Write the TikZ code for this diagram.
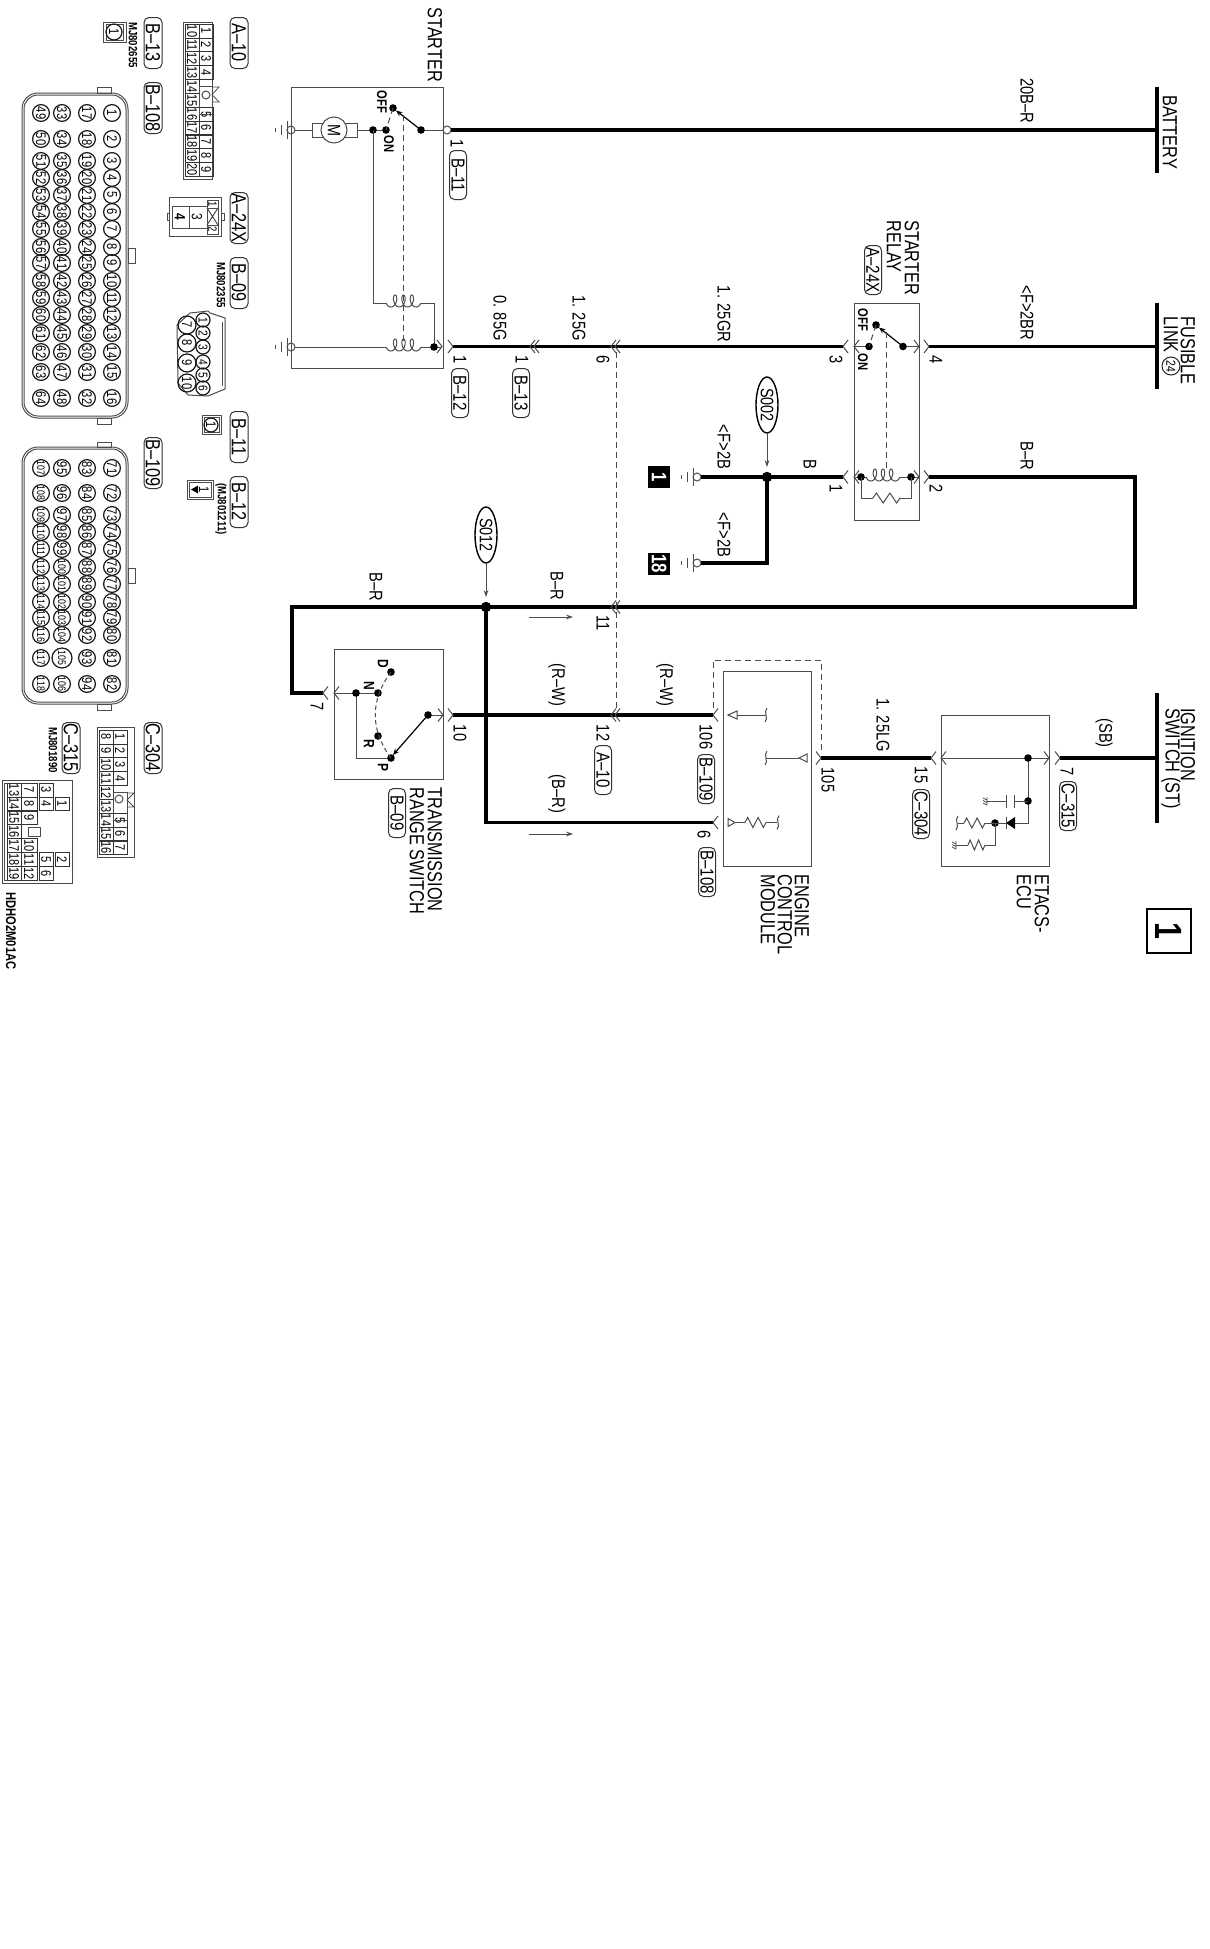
\documentclass[tikz,border=0pt]{standalone}
\usepackage{fontspec}
\setmainfont{Liberation Sans}[FakeStretch=0.8]
\usetikzlibrary{arrows.meta,shapes.geometric}
\definecolor{wiregray}{gray}{0.3}
\tikzset{
  hair/.style={draw=wiregray,line width=0.5pt},
  thick wire/.style={draw=black,line width=1.6pt,line join=miter},
  lab/.style={rotate=-90,inner sep=0pt,font=\fontsize{9.2}{9.2}\selectfont},
  ttl/.style={rotate=-90,inner sep=0pt,anchor=west,font=\fontsize{10.2}{10.2}\selectfont},
  badge/.style={draw=black!80,line width=0.5pt,rotate=-90,rounded corners=2.5pt,inner sep=0pt,minimum width=24.5pt,minimum height=8.5pt,font=\fontsize{9.4}{9.4}\selectfont},
  bigbadge/.style={badge,minimum width=25.5pt,minimum height=9pt,font=\fontsize{10.2}{10.2}\selectfont},
  part/.style={rotate=-90,inner sep=0pt,font=\bfseries\fontsize{6}{6}\selectfont},
  cellnum/.style={draw=black!80,line width=0.4pt,rotate=-90,inner sep=0pt,minimum width=6.9pt,minimum height=7pt,font=\fontsize{6.9}{6.9}\selectfont},
  pin/.style={circle,draw=black!90,line width=0.6pt,rotate=-90,inner sep=0pt,minimum size=8.4pt,font=\fontsize{7}{7}\selectfont},
  splice/.style={ellipse,draw=black,line width=0.7pt,rotate=-90,inner sep=0pt,minimum width=28pt,minimum height=11pt,font=\fontsize{9}{9}\selectfont},
  gndbox/.style={rotate=-90,fill=black,text=white,inner sep=0pt,minimum size=11pt,font=\bfseries\fontsize{10.5}{10.5}\selectfont},
  dashline/.style={draw=wiregray,line width=0.5pt,dash pattern=on 3pt off 2pt},
  arrowline/.style={draw=wiregray,line width=0.5pt,-{Stealth[length=3.5pt,width=2.4pt]}},
  armline/.style={draw=black,line width=0.6pt,-{Stealth[length=3.2pt,width=2.6pt]}},
}
\newcommand{\lab}[4]{\node[lab] (#1) at (#2,#3) {#4};}
\newcommand{\ttl}[4]{\node[ttl] (#1) at (#2,#3) {#4};}
\newcommand{\bdg}[4]{\node[badge] (#1) at (#2,#3) {#4};}
\newcommand{\bbdg}[4]{\node[bigbadge] (#1) at (#2,#3) {#4};}
\newcommand{\jdot}[2]{\fill (#1,#2) circle (1.9pt);}
\newcommand{\chevR}[2]{\draw[hair] ({#1-5},{#2-6.5}) -- (#1,#2) -- ({#1-5},{#2+6.5});}
\newcommand{\chevL}[2]{\draw[hair] ({#1+5},{#2-6.5}) -- (#1,#2) -- ({#1+5},{#2+6.5});}
\newcommand{\dchev}[2]{\chevL{#1}{#2}\chevL{#1+4}{#2}}
\newcommand{\coil}[3]{\draw[hair] plot[domain=-70:1150,samples=90,variable=\t] ({#1+(\t+70)/1220*(#3-6.6)+3.5*(sin(\t)+0.94)},{#2+4-6*(1-cos(\t))});}
\newcommand{\zig}[3]{\pgfmathsetmacro\zs{(#2-#1)/8}\draw[hair] (#1,#3) -- ({#1+\zs},{#3-5}) -- ({#1+3*\zs},{#3+5}) -- ({#1+5*\zs},{#3-5}) -- ({#1+7*\zs},{#3+5}) -- (#2,#3);}
\newcommand{\curl}[2]{\draw[hair] ({#1+1},{#2-7}) .. controls ({#1-3},{#2-3}) and ({#1+3},{#2+3}) .. ({#1-1},{#2+7});}
\newcommand{\gnd}[2]{\draw[hair] (#1,#2) circle (2pt);\draw[hair] ({#1-4},{#2-9}) -- ({#1-4},{#2+9});\draw[hair] ({#1-10},{#2-5}) -- ({#1-10},{#2+5});\draw[hair] ({#1-16},{#2-2}) -- ({#1-16},{#2+2});}
\newcommand{\hatchg}[2]{\draw[hair,line width=0.4pt] (#1,{#2-4}) -- (#1,{#2+4}) ({#1-4},{#2-3}) -- (#1,{#2-1}) ({#1-4},{#2-0.5}) -- (#1,{#2+1.5}) ({#1-4},{#2+2}) -- (#1,{#2+4});}
\newcommand{\keytab}[3]{\draw[hair,line width=0.4pt] (#1,#2) -- ({#1+7},#2) -- (#1,{(#2+#3)/2}) -- ({#1+7},#3) -- (#1,#3);}
\begin{document}
\begin{tikzpicture}[x=0.5pt,y=-0.5pt]
\useasboundingbox[fill=white] (0,0) rectangle (1210,1949);

% ---------- named wire end points
\coordinate (w1a) at (451,130);   \coordinate (w1b) at (1157,130);
\coordinate (w2a) at (453,346.5); \coordinate (w2b) at (843,346.5);
\coordinate (w3a) at (929,346.5); \coordinate (w3b) at (1157,346.5);
\coordinate (g1)  at (701,477);   \coordinate (s2j) at (767,477);  \coordinate (w4b) at (843,477);
\coordinate (g18) at (701,563);   \coordinate (s2c) at (767,563);
\coordinate (w5a) at (929,477);   \coordinate (w5b) at (1135,477); \coordinate (w5c) at (1135,607);
\coordinate (s12j) at (486,607);  \coordinate (w5d) at (292,607);  \coordinate (w5e) at (292,693); \coordinate (w5f) at (323,693);
\coordinate (w6a) at (453,715);   \coordinate (w6b) at (713,715);
\coordinate (w7a) at (486,822.5); \coordinate (w7b) at (713,822.5);
\coordinate (w8a) at (821,758);   \coordinate (w8b) at (931,758);
\coordinate (w9a) at (1060,758);  \coordinate (w9b) at (1157,758);

% ---------- thick wires
\draw[thick wire] (w1a) -- (w1b);
\draw[thick wire] (w2a) -- (w2b);
\draw[thick wire] (w3a) -- (w3b);
\draw[thick wire] (g1) -- (s2j) -- (w4b);
\draw[thick wire] (s2j) -- (s2c) -- (g18);
\draw[thick wire] (w5a) -- (w5b) -- (w5c) -- (s12j) -- (w5d) -- (w5e) -- (w5f);
\draw[thick wire] (w6a) -- (w6b);
\draw[thick wire] (s12j) -- (w7a) -- (w7b);
\draw[thick wire] (w8a) -- (w8b);
\draw[thick wire] (w9a) -- (w9b);
\draw[thick wire] (1157,87) -- (1157,173);
\draw[thick wire] (1157,303) -- (1157,389);
\draw[thick wire] (1157,693) -- (1157,823);

% ---------- titles
\ttl{tbat}{1170}{95}{BATTERY}
\node[ttl] (tfus) at (1188,316) {FUSIBLE};
\node[ttl] (tlink) at (1171,316) {LINK};
\node[circle,draw=black!85,line width=0.5pt,rotate=-90,inner sep=0pt,minimum size=9pt,font=\fontsize{6.5}{6.5}\selectfont] (c24) at (1171,366) {24};
\ttl{tign}{1188}{708}{IGNITION}
\ttl{tsw}{1171}{708}{SWITCH (ST)}
\ttl{tsta}{435}{7}{STARTER}
\ttl{trel1}{912}{220}{STARTER}
\ttl{trel2}{894}{220}{RELAY}
\ttl{ttr1}{435}{787}{TRANSMISSION}
\ttl{ttr2}{417}{787}{RANGE SWITCH}
\ttl{tec1}{802}{874}{ENGINE}
\ttl{tec2}{785}{874}{CONTROL}
\ttl{tec3}{768}{874}{MODULE}
\ttl{tet1}{1042}{874}{ETACS-}
\ttl{tet2}{1024}{874}{ECU}

% ---------- wire labels
\lab{l20}{1027}{101}{20B–R}
\lab{lf2br}{1027}{313}{<F>2BR}
\lab{lbr1}{1027}{456}{B–R}
\lab{l125gr}{724}{314}{1. 25GR}
\lab{l125g}{579}{318}{1. 25G}
\lab{l085}{500}{318}{0. 85G}
\lab{lf2b1}{724}{447}{<F>2B}
\lab{lf2b2}{724}{535}{<F>2B}
\lab{lb}{810}{464}{B}
\lab{lbr2}{557}{586}{B–R}
\lab{lbr3}{376}{587}{B–R}
\lab{lrw1}{557}{685}{(R–W)}
\lab{lrw2}{665}{685}{(R–W)}
\lab{lbr4}{557}{794}{(B–R)}
\lab{l125lg}{883}{725}{1. 25LG}
\lab{lsb}{1104}{733}{(SB)}

% ---------- pin numbers
\lab{n1a}{457}{144}{1}
\lab{n1b}{460}{360}{1}
\lab{n1c}{522}{360}{1}
\lab{n6}{603}{360}{6}
\lab{n3}{836}{360}{3}
\lab{n4}{936}{360}{4}
\lab{n1d}{836}{489}{1}
\lab{n2}{936}{489}{2}
\lab{n11}{603}{623}{11}
\lab{n12}{603}{733}{12}
\lab{n7a}{317}{707}{7}
\lab{n10}{460}{733}{10}
\lab{n106}{706}{737}{106}
\lab{n6b}{704}{835}{6}
\lab{n105}{828}{780}{105}
\lab{n15}{921}{775}{15}
\lab{n7b}{1067}{772}{7}

% ---------- connector badges in the circuit
\bdg{b11}{458}{175}{B–11}
\bdg{b12}{460}{393}{B–12}
\bdg{b13}{521}{393}{B–13}
\bdg{a10b}{603}{770}{A–10}
\bdg{a24b}{873}{270}{A–24X}
\bdg{b09b}{397}{813}{B–09}
\bdg{b109b}{706}{779}{B–109}
\bdg{b108b}{707}{872}{B–108}
\bdg{c304b}{921}{814}{C–304}
\bdg{c315b}{1068}{806}{C–315}

% ---------- STARTER
\draw[hair] (291,87) rectangle (443,368);
\gnd{291}{130}
\gnd{291}{347}
\draw[hair] (447,130) circle (2pt);
\draw[hair] (295,130) -- (386,130);
\draw[hair] (421,130) -- (443,130);
\draw[hair,fill=white] (312,123) rectangle (357,137);
\node[circle,draw=wiregray,line width=0.5pt,fill=white,rotate=-90,inner sep=0pt,minimum size=13pt,font=\fontsize{9}{9}\selectfont] (motor) at (334,130) {M};
\jdot{373}{130}\jdot{386}{130}\jdot{421}{130}\jdot{393}{108}
\draw[armline] (421,130) -- (396,110.5);
\draw[dashline] (393,108) -- (386,130);
\draw[dashline] (403,115) -- (403,341);
\node[part,font=\bfseries\fontsize{7}{7}\selectfont] (soff) at (382,102) {OFF};
\node[part,font=\bfseries\fontsize{7}{7}\selectfont] (son) at (389,144) {ON};
\draw[hair] (373,130) -- (373,303) -- (386,303);
\coil{386}{303}{35}
\draw[hair] (421,303) -- (434,303) -- (434,347);
\draw[hair] (295,347) -- (386,347);
\coil{386}{347}{35}
\draw[hair] (421,347) -- (442,347);
\jdot{434}{347}
\chevR{442}{346.5}\chevR{453}{346.5}
\dchev{530}{346.5}
\dchev{611}{346.5}
\dchev{611}{607}
\dchev{611}{715}
\draw[dashline] (616,352) -- (616,708);

% ---------- RELAY
\draw[hair] (854,303) rectangle (919,520);
\chevL{843}{346.5}\chevL{854}{346.5}\chevR{919}{346.5}\chevR{929}{346.5}
\chevL{843}{477}\chevL{854}{477}\chevR{919}{477}\chevR{929}{477}
\draw[hair] (854,346.5) -- (869,346.5);
\draw[hair] (903,346.5) -- (919,346.5);
\jdot{869}{346.5}\jdot{903}{346.5}\jdot{876}{325}
\draw[armline] (903,346.5) -- (879,327.5);
\draw[dashline] (876,325) -- (869,346.5);
\draw[dashline] (886,332) -- (886,468);
\node[part,font=\bfseries\fontsize{7}{7}\selectfont] (roff) at (863,320) {OFF};
\node[part,font=\bfseries\fontsize{7}{7}\selectfont] (ron) at (863,362) {ON};
\draw[hair] (854,477) -- (866,477);
\coil{866}{477}{34}
\draw[hair] (900,477) -- (919,477);
\jdot{861}{477}\jdot{911}{477}
\draw[hair] (861,477) -- (861,498) -- (873,498);
\zig{873}{900}{498}
\draw[hair] (900,498) -- (911,498) -- (911,477);

% ---------- splices, grounds
\node[splice] (s002) at (767,405) {S002};
\coordinate (s2t) at (767,467);
\draw[arrowline] (s002.east) -- (s2t);
\fill (s2j) circle (2.6pt);
\node[splice] (s012) at (486,535) {S012};
\coordinate (s12t) at (486,597);
\draw[arrowline] (s012.east) -- (s12t);
\fill (s12j) circle (2.6pt);
\gnd{697}{477}
\gnd{697}{563}
\node[gndbox] (gb1) at (659,477) {1};
\node[gndbox] (gb18) at (659,563.5) {18};
\coordinate (ar1a) at (529,617); \coordinate (ar1b) at (573,617);
\coordinate (ar2a) at (529,834); \coordinate (ar2b) at (573,834);
\draw[arrowline] (ar1a) -- (ar1b);
\draw[arrowline] (ar2a) -- (ar2b);

% ---------- RANGE SWITCH
\draw[hair] (334,649) rectangle (443,779);
\chevL{323}{693}\chevL{334}{693}\chevR{443}{715}\chevR{453}{715}
\draw[hair] (334,693) -- (378,693);
\draw[hair] (356,693) -- (356,758) -- (391,758);
\draw[hair] (428,715) -- (443,715);
\jdot{356}{693}\jdot{378}{693}\jdot{391}{672}\jdot{378}{736}\jdot{391}{758}\jdot{428}{715}
\draw[dashline,dash pattern=on 2.2pt off 1.5pt] (391,672) .. controls (370,700) and (370,730) .. (391,758);
\draw[armline] (428,715) -- (393,755);
\node[part,font=\bfseries\fontsize{7.5}{7.5}\selectfont] (sd) at (383,664) {D};
\node[part,font=\bfseries\fontsize{7.5}{7.5}\selectfont] (sn) at (369,686) {N};
\node[part,font=\bfseries\fontsize{7.5}{7.5}\selectfont] (sr) at (369,744) {R};
\node[part,font=\bfseries\fontsize{7.5}{7.5}\selectfont] (sp) at (383,767) {P};

% ---------- ECM
\draw[hair] (723,671) rectangle (811,866);
\draw[dashline] (713,708) -- (713,660) -- (821,660) -- (821,752);
\chevL{713}{715}\chevL{713}{822.5}\chevR{821}{758}
\draw[hair] (728,715) -- (737,711) -- (737,719) -- cycle;
\draw[hair] (737,715) -- (766,715);
\curl{766}{715}
\draw[hair] (799,758) -- (807,754) -- (807,762) -- cycle;
\draw[hair] (766,758) -- (799,758);
\curl{766}{758}
\draw[hair] (728,818.5) -- (735,822.5) -- (728,826.5) -- cycle;
\draw[hair] (735,822.5) -- (745,822.5);
\zig{745}{766}{822.5}
\draw[hair] (766,822.5) -- (777,822.5);
\curl{778}{822.5}

% ---------- ETACS
\draw[hair] (941,715) rectangle (1049,866);
\chevL{931}{758}\chevL{941}{758}\chevR{1049}{758}\chevR{1060}{758}
\draw[hair] (941,758) -- (1049,758);
\draw[hair] (1028,758) -- (1028,823) -- (1015,823);
\jdot{1028}{758}\jdot{1028}{801}\jdot{995}{823}
\draw[hair] (1028,801) -- (1014,801);
\draw[hair] (1014,795) -- (1014,808);
\draw[hair] (1006,795) -- (1006,808);
\draw[hair] (1006,801) -- (987,801);
\hatchg{987}{801}
\fill (1015,817) -- (1006,823) -- (1015,829) -- cycle;
\draw[hair] (1006,817) -- (1006,829);
\draw[hair] (1006,823) -- (985,823);
\zig{964}{985}{823}
\draw[hair] (964,823) -- (958,823);
\curl{957}{823}
\draw[hair] (995,823) -- (995,845) -- (985,845);
\zig{968}{985}{845}
\draw[hair] (968,845) -- (956,845);
\hatchg{956}{845}

% ---------- page box
\draw[draw=black,line width=0.9pt] (1147,909) rectangle (1191,953);
\node[rotate=-90,inner sep=0pt,font=\bfseries\fontsize{19}{19}\selectfont] (pg) at (1169,931) {1};

% ---------- left column: badges and part numbers
\bbdg{la10}{239}{43}{A–10}
\bbdg{lb13}{153}{43}{B–13}
\bbdg{lb108}{153}{108}{B–108}
\bbdg{la24}{239}{218}{A–24X}
\bbdg{lb09}{239}{283}{B–09}
\bbdg{lb11}{239}{437}{B–11}
\bbdg{lb12}{239}{502}{B–12}
\bbdg{lb109}{153}{463}{B–109}
\bbdg{lc304}{153}{748}{C–304}
\bbdg{lc315}{71}{748}{C–315}
\node[part] (mj1) at (133,45) {MJ802655};
\node[part] (mj2) at (221,285) {MJ802355};
\node[part] (mj3) at (221,509) {(MJ801211)};
\node[part] (mj4) at (53,750) {MJ801890};
\node[part,font=\bfseries\fontsize{7}{7}\selectfont] (hdh) at (11,931) {HDHO2M01AC};

% ---------- B-13 icon
\draw[hair] (103,22) rectangle (126,42);
\draw[hair,fill=white] (106,24) rectangle (123,40);
\node[pin,minimum size=8pt] (i13) at (114,32) {1};
% ---------- B-11 icon
\draw[hair] (202,415) rectangle (221,434);
\draw[hair] (204,417) rectangle (219,432);
\node[pin,minimum size=7pt] (i11) at (211,425) {1};
% ---------- B-12 icon
\draw[hair] (187,480) rectangle (213,499);
\draw[hair] (189,482) rectangle (211,497);
\fill (191,489.5) -- (198,485.5) -- (198,493.5) -- cycle;
\node[lab,font=\fontsize{7}{7}\selectfont] (i12) at (204,489.5) {1};

% ---------- A-10
\draw[hair] (183,22) rectangle (212,179);
\foreach \n [count=\i from 0] in {10,...,20}{\pgfmathsetmacro\yy{31+13.85*\i}\node[cellnum] (a\n) at (192,\yy) {\n};}
\foreach \n/\r in {1/0,2/1,3/2,4/3,5/6,6/7,7/8,8/9,9/10}{\pgfmathsetmacro\yy{31+13.85*\r}\node[cellnum] (a\n) at (206,\yy) {\n};}
\draw[hair] (199,86.4) rectangle (212.5,114);
\draw[hair] (206,95) circle (2pt);
\keytab{212}{87}{102}

% ---------- C-304
\draw[hair] (97,727) rectangle (134,857);
\foreach \n [count=\i from 0] in {8,...,16}{\pgfmathsetmacro\yy{737+13.85*\i}\node[cellnum] (c\n) at (106,\yy) {\n};}
\foreach \n/\r in {1/0,2/1,3/2,4/3,5/6,6/7,7/8}{\pgfmathsetmacro\yy{737+13.85*\r}\node[cellnum] (c\n) at (120,\yy) {\n};}
\draw[hair] (113,792) rectangle (127,820);
\draw[hair] (119,799) circle (2pt);
\keytab{127}{793}{807}

% ---------- C-315
\draw[hair] (2,780) rectangle (72,883);
\draw[hair,line width=0.4pt] (4,783) rectangle (7,880);
\foreach \n/\r in {13/0,14/1,15/2,16/3,17/4,18/5,19/6}{\pgfmathsetmacro\yy{790+13.9*\r}\node[cellnum] (e\n) at (14,\yy) {\n};}
\foreach \n/\r in {7/0,8/1,9/2,10/4,11/5,12/6}{\pgfmathsetmacro\yy{790+13.9*\r}\node[cellnum,minimum height=8pt] (e\n) at (29,\yy) {\n};}
\foreach \n/\r in {3/0,4/1,5/5,6/6}{\pgfmathsetmacro\yy{790+13.9*\r}\node[cellnum] (e\n) at (46,\yy) {\n};}
\foreach \n/\r in {1/1,2/5}{\pgfmathsetmacro\yy{790+13.9*\r}\node[cellnum] (e\n) at (62,\yy) {\n};}
\draw[hair] (28,827) rectangle (40,836);

% ---------- A-24X
\draw[hair] (169,197) rectangle (221,236);
\draw[hair] (167,213) rectangle (169,220);
\draw[hair] (221,213) rectangle (224,220);
\draw[hair] (172,206) rectangle (189,228);
\draw[hair] (189,206) rectangle (207,228);
\node[lab,font=\bfseries\fontsize{7.4}{7.4}\selectfont] (k4) at (180,217) {4};
\node[lab,font=\fontsize{7.4}{7.4}\selectfont] (k3) at (197,217) {3};
\draw[hair] (207,200) rectangle (218,208);
\draw[hair] (207,208) rectangle (218,225);
\draw[hair] (207,208) -- (218,225) (207,225) -- (218,208);
\draw[hair] (207,225) rectangle (218,234);
\node[lab,font=\fontsize{6}{6}\selectfont] (k1) at (212.5,204) {1};
\node[lab,font=\fontsize{6}{6}\selectfont] (k2) at (212.5,229.5) {2};

% ---------- B-09
\draw[hair] (190,313) -- (208,311) -- (210,313) -- (225,318) -- (225,389) -- (208,396) -- (188,395) -- (178,383) -- (177,325) -- cycle;
\draw[hair] (222,322) -- (222,386);
\foreach \n/\yy in {1/320,2/333,3/347,4/362,5/375,6/388}{\node[pin,minimum size=7pt,font=\fontsize{6.4}{6.4}\selectfont] (t\n) at (203,\yy) {\n};}
\foreach \n/\yy in {7/325,8/343,9/363,10/383}{\node[pin,minimum size=9pt] (t\n) at (187,\yy) {\n};}

% ---------- B-108
\draw[hair,rounded corners=8pt] (22,93) rectangle (128,418);
\draw[hair,rounded corners=7pt] (24,95) rectangle (126,416);
\draw[hair] (97,87) rectangle (111,93);
\draw[hair] (97,418) rectangle (111,424);
\draw[hair] (128,248) rectangle (135,263);
\foreach \cx/\st in {112/1,87/17,62/33,41/49}{
  \foreach \yy [count=\i from 0] in {113,139,161,178,195,212,229,247,263,281,298,315,333,352,372,398}{
    \pgfmathtruncatemacro\n{\st+\i}
    \node[pin] (p\n) at (\cx,\yy) {\n};
  }
}

% ---------- B-109
\draw[hair,rounded corners=8pt] (22,447) rectangle (128,704);
\draw[hair,rounded corners=7pt] (24,449) rectangle (126,702);
\draw[hair] (97,442) rectangle (111,447);
\draw[hair] (97,704) rectangle (111,710);
\draw[hair] (128,568) rectangle (135,583);
\foreach \cx/\st in {112/71,87/83,62/95,41/107}{
  \foreach \yy [count=\i from 0] in {468,493,515,532,549,567,584,602,618,635,658,684}{
    \pgfmathtruncatemacro\n{\st+\i}
    \ifnum\n=105\relax
      \node[pin,minimum size=10pt,font=\fontsize{5.5}{5.5}\selectfont] (p105) at (\cx,\yy) {105};
    \else
      \node[pin] (p\n) at (\cx,\yy) {\ifnum\n>99\fontsize{5.5}{5.5}\selectfont\fi\n};
    \fi
  }
}
\end{tikzpicture}
\end{document}
